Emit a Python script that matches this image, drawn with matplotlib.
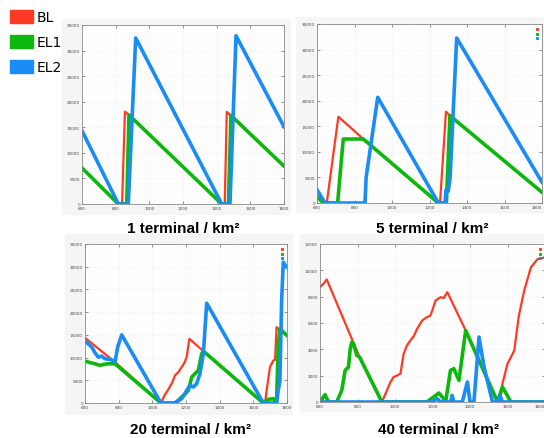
import matplotlib
matplotlib.use('Agg')
import matplotlib.pyplot as plt
from matplotlib.patches import Patch, Rectangle
from matplotlib.lines import Line2D

RED = '#ff3a22'
GREEN = '#0cb80c'
BLUE = '#1a8cf5'

# ---- 1 terminal / km2 ----
p1_red_x = [600, 816, 838, 855, 879, 1430, 1448, 1460, 1485, 1800]
p1_red_y = [7040, 0, 0, 18050, 17400, 0, 0, 18000, 17300, 7400]
p1_green_x = [600, 816, 866, 879, 1430, 1470, 1485, 1800]
p1_green_y = [7040, 0, 0, 17400, 0, 0, 17300, 7400]
p1_blue_x = [600, 816, 875, 919, 1430, 1479, 1515, 1800]
p1_blue_y = [14330, 0, 0, 32460, 0, 0, 32900, 15100]

# ---- 5 terminal / km2 ----
p2_red_x = [600, 634, 652, 714, 847, 1247, 1256, 1288, 1309, 1800]
p2_red_y = [1230, 0, 0, 16870, 12510, 0, 0, 17850, 17070, 2090]
p2_green_x = [600, 634, 710, 740, 847, 1247, 1290, 1309, 1800]
p2_green_y = [1230, 0, 0, 12510, 12510, 0, 0, 17070, 2090]
p2_blue_x = [600, 643, 856, 862, 924, 1247, 1283, 1288, 1300, 1310, 1345, 1800]
p2_blue_y = [2600, 0, 0, 5000, 20670, 0, 0, 2600, 2300, 5000, 32260, 4050]

# ---- 20 terminal / km2 ----
p3_red_x = [600, 778, 1051, 1070, 1095, 1115, 1135, 1155, 1174, 1190, 1204,
            1220, 1303, 1659, 1670, 1679, 1699, 1719, 1729, 1738, 1758, 1800]
p3_red_y = [14350, 9000, 0, 1500, 3000, 4250, 6080, 6800, 7900, 8800, 10100,
            14130, 11420, 0, 0, 2780, 7900, 9370, 9500, 16700, 15960, 14860]
p3_green_x = [600, 630, 659, 689, 710, 739, 778, 1051, 1100, 1135, 1155, 1174,
              1195, 1214, 1234, 1253, 1273, 1293, 1303, 1659, 1689, 1719, 1738,
              1748, 1758, 1800]
p3_green_y = [9220, 8900, 8640, 8270, 8500, 8640, 8640, 0, 0, 0, 600, 1320,
              2000, 2780, 5700, 6440, 7170, 10830, 11420, 0, 800, 950, 0,
              13000, 16300, 14860]
p3_blue_x = [600, 620, 640, 660, 679, 700, 719, 740, 758, 778, 794, 818, 1051,
             1135, 1155, 1174, 1190, 1204, 1224, 1244, 1263, 1283, 1303, 1323,
             1659, 1738, 1748, 1758, 1768, 1778, 1792, 1800]
p3_blue_y = [13600, 13000, 12300, 11000, 10100, 10300, 9740, 9600, 9500, 9000,
             12300, 15000, 0, 0, 500, 950, 1800, 2780, 3880, 3510, 4250, 6440,
             10830, 21960, 0, 0, 2780, 5000, 22500, 31000, 30200, 29900]

# ---- 40 terminal / km2 ----
p4_red_x = [600, 618, 636, 811, 930, 957, 975, 993, 1010, 1029, 1046, 1064,
            1082, 1100, 1118, 1145, 1165, 1189, 1200, 1216, 1243, 1260, 1279,
            1377, 1547, 1560, 1573, 1600, 1636, 1660, 1689, 1725, 1761, 1800]
p4_red_y = [8715, 8970, 9300, 3410, 0, 880, 1500, 1900, 2000, 2150, 3660, 4300,
            4670, 5000, 5560, 6190, 6400, 6570, 7000, 7700, 7960, 7900, 8340,
            5430, 0, 0, 1390, 2900, 3900, 6500, 8460, 10230, 10860, 10990]
p4_green_x = [600, 627, 645, 689, 716, 734, 752, 761, 770, 779, 796, 811, 930,
              1170, 1234, 1252, 1270, 1296, 1314, 1341, 1377, 1547, 1573, 1618,
              1800]
p4_green_y = [0, 560, 0, 0, 880, 2400, 2650, 4040, 4550, 4420, 3540, 3410, 0,
              0, 680, 380, 0, 2400, 2530, 1640, 5430, 0, 1140, 0, 0]
p4_blue_x = [600, 1200, 1225, 1243, 1296, 1305, 1314, 1359, 1386, 1400, 1421,
             1448, 1475, 1520, 1545, 1560, 1573, 1800]
p4_blue_y = [0, 0, 250, 0, 0, 500, 0, 0, 1520, 0, 0, 4930, 2650, 0, 0, 500, 0,
             0]

titles = ['1 terminal / km²', '5 terminal / km²',
          '20 terminal / km²', '40 terminal / km²']
x_ticks = [600, 800, 1000, 1200, 1400, 1600, 1800]
y_ticks_big = [0, 5000, 10000, 15000, 20000, 25000, 30000, 35000]
y_ticks_small = [0, 2000, 4000, 6000, 8000, 10000, 12000]

W, H = 544, 439
fig = plt.figure(figsize=(W / 100, H / 100), dpi=100)


def box(l, t, r, b):
    # pixel box -> figure fraction [left, bottom, width, height]
    return [l / W, 1 - b / H, (r - l) / W, (b - t) / H]


# grey screenshot backgrounds behind each gnuplot panel
for l, t, r, b in [(62, 20, 290, 215), (296, 18, 544, 213),
                   (65, 235, 292, 415), (300, 235, 544, 412)]:
    fig.patches.append(Rectangle((l / W, 1 - b / H), (r - l) / W, (b - t) / H,
                                 transform=fig.transFigure,
                                 color='#f5f5f5', zorder=-5))

panels = [
    (box(82, 26, 284, 205), p1_red_x, p1_red_y, p1_green_x, p1_green_y,
     p1_blue_x, p1_blue_y, y_ticks_big, False, False),
    (box(317, 25, 542, 204), p2_red_x, p2_red_y, p2_green_x, p2_green_y,
     p2_blue_x, p2_blue_y, y_ticks_big, True, True),
    (box(85, 245, 287, 404), p3_red_x, p3_red_y, p3_green_x, p3_green_y,
     p3_blue_x, p3_blue_y, y_ticks_big, True, False),
    (box(320, 245, 545, 403), p4_red_x, p4_red_y, p4_green_x, p4_green_y,
     p4_blue_x, p4_blue_y, y_ticks_small, True, True),
]

for rect, rx, ry, gx, gy, bx, by, yt, key, edge in panels:
    ax = fig.add_axes(rect)
    ax.set_facecolor('#fdfdfd')
    ax.plot(rx, ry, color=RED, lw=1.6, solid_joinstyle='round')
    ax.plot(gx, gy, color=GREEN, lw=2.6, solid_joinstyle='round')
    ax.plot(bx, by, color=BLUE, lw=2.6, solid_joinstyle='round')
    ax.set_xlim(600, 1800)
    ax.set_ylim(yt[0], yt[-1])
    ax.set_xticks(x_ticks)
    ax.set_yticks(yt)
    ax.grid(True, color='#e4e4e4', lw=0.4, ls=':')
    ax.set_axisbelow(True)
    ax.tick_params(direction='in', length=2, width=0.4, labelsize=3,
                   colors='#444444', top=True, right=True, pad=1.5)
    if edge:
        # last x label sits on the picture edge
        ax.get_xticklabels()[-1].set_horizontalalignment('right')
    for s in ax.spines.values():
        s.set_color('#8a8a8a')
        s.set_linewidth(0.6)
    if key:
        h = [Line2D([], [], ls='', marker='s', ms=1.2, color=c)
             for c in (RED, GREEN, BLUE)]
        ax.legend(h, ['', '', ''], loc='upper right', frameon=False,
                  fontsize=2, handlelength=0.5, labelspacing=0.2,
                  borderaxespad=0.8, handletextpad=0.2)

# panel titles
for (cx, cy), t in zip([(183, 229), (432, 229), (191, 430), (439, 430)], titles):
    fig.text(cx / W, 1 - cy / H, t, ha='center', va='center',
             fontsize=11, fontweight='bold', family='Liberation Sans')

# colour legend in the top-left corner
handles = [Patch(color=c) for c in (RED, GREEN, BLUE)]
fig.legend(handles, ['BL', 'EL1', 'EL2'], loc='upper left',
           bbox_to_anchor=(0.018, 0.976), frameon=False, fontsize=10,
           handlelength=1.65, handleheight=1.1, labelspacing=0.78,
           handletextpad=0.25, borderaxespad=0.0, borderpad=0.0)

fig.savefig('out.png', dpi=100)
